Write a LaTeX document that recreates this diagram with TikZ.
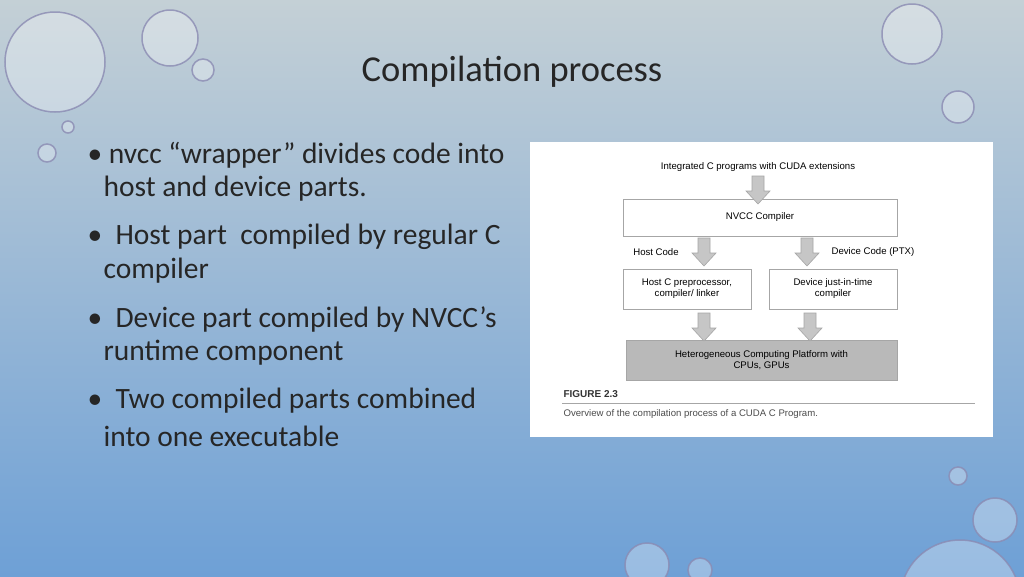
\documentclass[tikz,border=0pt]{standalone}
\usepackage{fontspec}
\setmainfont{Carlito}
\newfontfamily\figfont{Liberation Sans}
\newcommand\figsz{\figfont\fontsize{9.6}{11}\selectfont}
\newcommand\blockarr[2]{\filldraw[draw=gray!70,fill=gray!45,line width=0.6pt] (#1-6,#2) -- (#1+6,#2) -- (#1+6,#2+15) -- (#1+12,#2+15) -- (#1,#2+28) -- (#1-12,#2+15) -- (#1-6,#2+15) -- cycle;}
\begin{document}
\begin{tikzpicture}[x=1pt,y=-1pt,
  bub/.style={draw=white!60!blue!40!gray,line width=1.5pt,fill=white,fill opacity=0.3,draw opacity=0.8},
  box/.style={draw=gray!70,line width=0.8pt,fill=white,font=\figsz,align=center,inner sep=0pt},
  bul/.style={anchor=west,font=\fontsize{29.5}{34}\selectfont,text=black!85}]
\useasboundingbox (0,0) rectangle (1024,576);
\shade[top color={rgb,255:red,196;green,208;blue,214},bottom color={rgb,255:red,110;green,160;blue,214}] (0,0) rectangle (1024,576);
% bubbles
\draw[bub] (55,62) circle (50);
\draw[bub] (170,38) circle (28);
\draw[bub] (203,70) circle (11);
\draw[bub] (68,127) circle (6);
\draw[bub] (47,153) circle (9);
\draw[bub] (912,34) circle (30);
\draw[bub] (958,107) circle (16);
\draw[bub] (958,476) circle (9);
\draw[bub] (995,520) circle (22);
\draw[bub] (960,600) circle (60);
\draw[bub] (647,565) circle (22);
\draw[bub] (700,570) circle (12);
% title
\node[font=\fontsize{36.5}{42}\selectfont,text=black!85] (title) at (512,72) {Compilation process};
% bullets
\node[bul] (b1) at (84,155) {• nvcc “wrapper” divides code into};
\node[bul] (b1b) at (100,189) {host and device parts.};
\node[bul] (b2) at (84,237) {•\ \ Host part\ \ compiled by regular C};
\node[bul] (b2b) at (100,271) {compiler};
\node[bul] (b3) at (84,319) {•\ \ Device part compiled by NVCC’s};
\node[bul] (b3b) at (100,353) {runtime component};
\node[bul] (b4) at (84,401) {•\ \ Two compiled parts combined};
\node[bul] (b4b) at (100,436) {into one executable};
% figure panel
\fill[white] (530,142) rectangle (993,437);
\node[font=\figsz] (top) at (758,167) {Integrated C programs with CUDA extensions};
\node[box,minimum width=274pt,minimum height=37pt] (nvcc) at (760,217.5) {NVCC Compiler};
\node[box,minimum width=128pt,minimum height=40pt] (host) at (687,289) {Host C preprocessor,\\compiler/ linker};
\node[box,minimum width=128pt,minimum height=40pt] (dev) at (833,289) {Device just-in-time\\compiler};
\node[font=\figsz] (hc) at (656,252) {Host Code};
\node[font=\figsz] (dc) at (873,252) {Device Code (PTX)};
\node[box,fill=gray!55,minimum width=271pt,minimum height=40pt] (plat) at (761.5,360) {Heterogeneous Computing Platform with\\CPUs, GPUs};
\blockarr{758}{176}
\blockarr{704}{238}
\blockarr{807}{238}
\blockarr{704}{313}
\blockarr{810}{313}
\node[anchor=west,font=\figfont\bfseries\fontsize{10}{12}\selectfont,text=black!80] (fig) at (560,394) {FIGURE 2.3};
\draw[gray!70,line width=0.8pt] (562,403) -- (975,403);
\node[anchor=west,font=\figsz,text=black!70] (cap) at (560,414) {Overview of the compilation process of a CUDA C Program.};
\end{tikzpicture}
\end{document}
